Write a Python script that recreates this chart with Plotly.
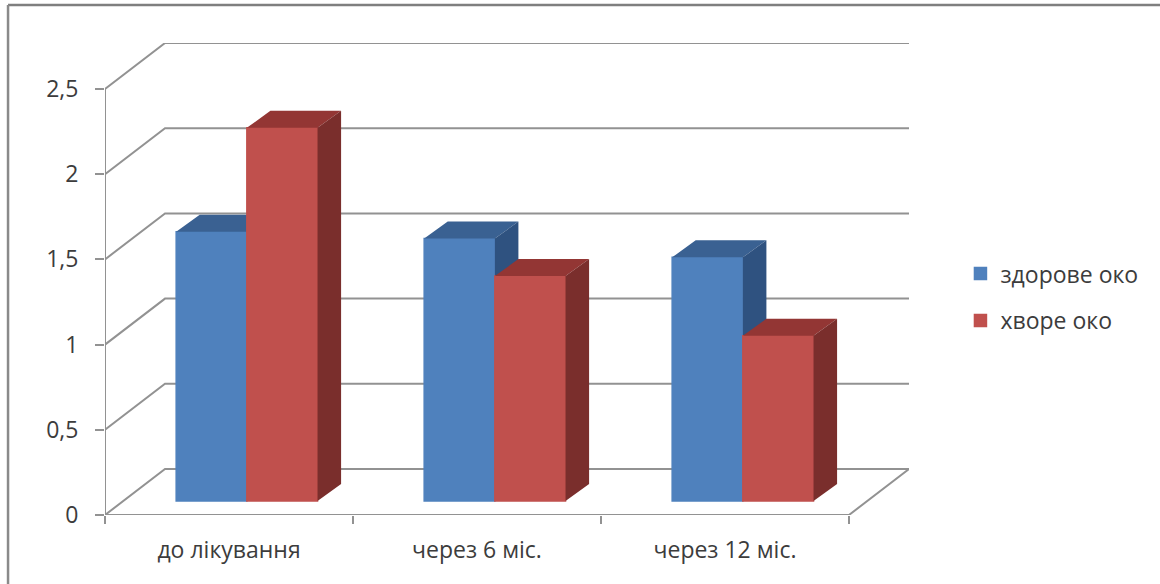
import plotly.graph_objects as go

categories = ["до лікування", "через 6 міс.", "через 12 міс."]
healthy = [1.58, 1.54, 1.43]
diseased = [2.19, 1.32, 0.97]
series_names = ["здорове око", "хворе око"]
y_ticks = [0, 0.5, 1, 1.5, 2, 2.5]
y_tick_labels = ["0", "0,5", "1", "1,5", "2", "2,5"]

FONT = "Open Sans"
TEXT = "#3c3c3c"
LINE = "#929292"
BLUE, BLUE_TOP, BLUE_SIDE = "#4F81BD", "#3A6192", "#2F5280"
RED, RED_TOP, RED_SIDE = "#C0504D", "#933634", "#7A2E2C"

# oblique projection used to fake the 3D look, in axis units
WALL_DX, WALL_DY = 0.242, 0.27
BAR_DX, BAR_DY = 0.095, 0.1
BAR_BASE = 0.082
BAR_W = 0.285
BAR_START = 0.287
X_MAX = 3.242
Y_MAX = 2.77
n = len(categories)


def wall_lines():
    xs, ys = [0, 0, None], [0, y_ticks[-1], None]
    for v in y_ticks:
        xs += [0, WALL_DX, X_MAX, None]
        ys += [v, v + WALL_DY, v + WALL_DY, None]
    xs += [0, n, n + WALL_DX]
    ys += [0, 0, WALL_DY]
    return xs, ys


def faces(values, offset):
    tx, ty, sx, sy = [], [], [], []
    for i, v in enumerate(values):
        x0 = i + BAR_START + offset
        x1 = x0 + BAR_W
        top = BAR_BASE + v
        tx += [x0, x0 + BAR_DX, x1 + BAR_DX, x1, x0, None]
        ty += [top, top + BAR_DY, top + BAR_DY, top, top, None]
        sx += [x1, x1 + BAR_DX, x1 + BAR_DX, x1, x1, None]
        sy += [BAR_BASE, BAR_BASE + BAR_DY, top + BAR_DY, top, BAR_BASE, None]
    return tx, ty, sx, sy


def poly(x, y, color, z):
    return go.Scatter(x=x, y=y, mode="lines", fill="toself", fillcolor=color,
                      line=dict(width=0, color=color), showlegend=False,
                      hoverinfo="skip", zorder=z)


def bars(values, offset, color, name, z):
    return go.Bar(x=[i + 0.5 for i in range(n)], y=values, base=BAR_BASE,
                  width=BAR_W, offset=BAR_START - 0.5 + offset, name=name,
                  marker=dict(color=color, line=dict(width=1.5, color=color)), zorder=z,
                  legendgroup=name)


fig = go.Figure()
wx, wy = wall_lines()
fig.add_trace(go.Scatter(x=wx, y=wy, mode="lines", line=dict(color=LINE, width=2),
                         showlegend=False, hoverinfo="skip", zorder=0, cliponaxis=False))

tx, ty, sx, sy = faces(healthy, 0)
fig.add_trace(bars(healthy, 0, BLUE, series_names[0], 1))
fig.add_trace(poly(tx, ty, BLUE_TOP, 2))
fig.add_trace(poly(sx, sy, BLUE_SIDE, 2))

tx, ty, sx, sy = faces(diseased, BAR_W)
fig.add_trace(bars(diseased, BAR_W, RED, series_names[1], 3))
fig.add_trace(poly(tx, ty, RED_TOP, 4))
fig.add_trace(poly(sx, sy, RED_SIDE, 4))

fig.update_layout(
    width=1160, height=584,
    margin=dict(l=105, r=251, t=43, b=69),
    paper_bgcolor="white", plot_bgcolor="white",
    barmode="overlay",
    font=dict(family=FONT, size=23, color=TEXT),
    legend=dict(x=1.064, xref="paper", xanchor="left", y=0.557, yanchor="top",
                yref="paper", tracegroupgap=14, font=dict(size=23, color=TEXT),
                bgcolor="rgba(0,0,0,0)", itemclick=False, itemdoubleclick=False),
    shapes=[
        dict(type="line", xref="paper", yref="paper", layer="below",
             x0=-0.1206, x1=1.3122, y0=1.0805, y1=1.0805,
             line=dict(color="#7f7f7f", width=2.5)),
        dict(type="line", xref="paper", yref="paper", layer="below",
             x0=-0.1206, x1=-0.1206, y0=-0.15, y1=1.0805,
             line=dict(color="#8a8a8a", width=2.5)),
    ],
)
fig.update_xaxes(
    range=[0, X_MAX], showgrid=False, zeroline=False, showline=False,
    tickmode="array", tickvals=[i + 0.5 for i in range(n)], ticktext=categories,
    ticks="", ticklabelstandoff=19, tickfont=dict(size=23, color=TEXT),
    minor=dict(tickmode="array", tickvals=list(range(n + 1)), ticks="outside",
               ticklen=8, tickwidth=2, tickcolor=LINE),
)
fig.update_yaxes(
    range=[0, Y_MAX], showgrid=False, zeroline=False, showline=False,
    tickmode="array", tickvals=y_ticks, ticktext=y_tick_labels,
    ticks="outside", ticklen=9, tickwidth=2, tickcolor=LINE,
    ticklabelstandoff=12, tickfont=dict(size=23, color=TEXT),
)
fig.write_html("out.html", post_script="document.body.style.margin='0';",
               config=dict(displayModeBar=False))
